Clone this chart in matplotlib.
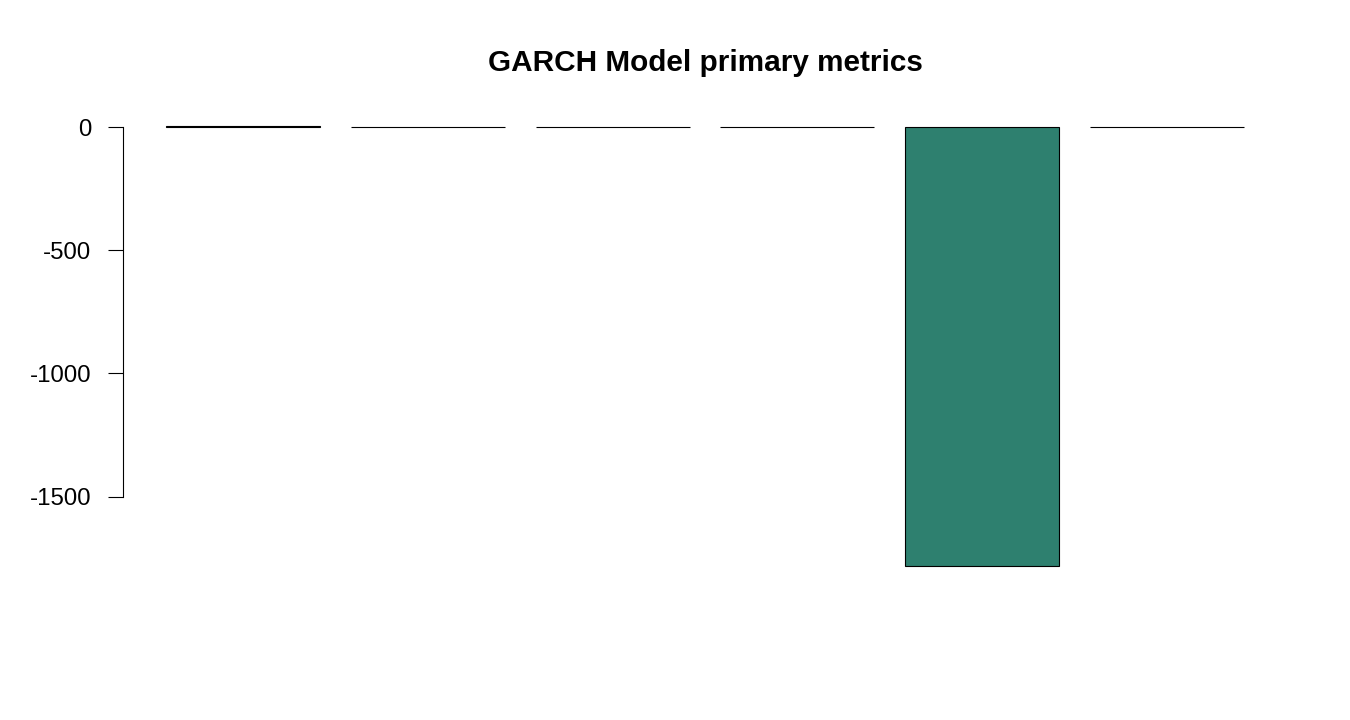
import matplotlib.pyplot as plt
import numpy as np

plt.rcParams['font.family'] = ['Liberation Sans', 'DejaVu Sans']

# values (only the 5th bar is visibly non-zero)
metrics = ["m1", "m2", "m3", "m4", "m5", "m6"]
values = [5.0, 0.4, 0.3, 0.2, -1782.0, 0.1]
yticks = [0, -500, -1000, -1500]

fig = plt.figure(figsize=(13.5, 7.2), dpi=100)
W, H = 1350, 720
left, right, top, bottom = 123, 1287, 108.4, 583.6
ax = fig.add_axes([left / W, 1 - bottom / H, (right - left) / W, (bottom - top) / H])

# R barplot geometry: width 1, space 0.2
x = 0.2 + np.arange(len(values)) * 1.2
ax.bar(x, values, width=1.0, align="edge", color="#2E806F",
       edgecolor="black", linewidth=0.8)

lo, hi = min(0, min(values)), max(0, max(values))
pad = 0.04 * (hi - lo)
ax.set_xlim(x[0] - 0.28, x[-1] + 1.0 + 0.28)
ax.set_ylim(lo - pad, hi + pad)

for s in ["top", "right", "bottom"]:
    ax.spines[s].set_visible(False)
ax.spines["left"].set_bounds(yticks[-1], yticks[0])
ax.spines["left"].set_linewidth(0.8)
ax.set_xticks([])
ax.set_yticks(yticks)
ax.set_yticklabels([str(t) for t in yticks])
ax.tick_params(axis="y", length=11, width=0.8, pad=12, labelsize=17.3)

fig.text((left + right) / 2 / W, 1 - 63 / H, "GARCH Model primary metrics",
         ha="center", va="center", fontsize=21.4, fontweight="bold")

fig.savefig("out.png", dpi=100)
